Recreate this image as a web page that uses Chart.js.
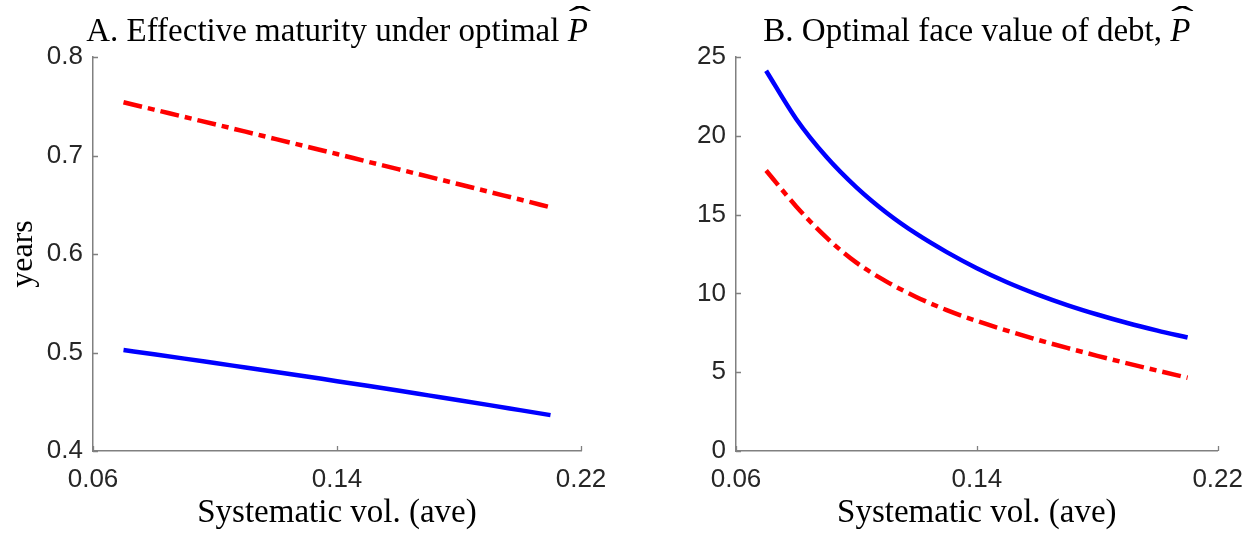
<!DOCTYPE html>
<html>
<head>
<meta charset="utf-8">
<script src="https://cdn.jsdelivr.net/npm/chart.js@4.4.0/dist/chart.umd.min.js"></script>
<style>
  html, body { margin: 0; padding: 0; background: #fff; }
  .panel { position: absolute; top: 0; width: 628px; height: 533px; }
  #p1 { left: 0; }
  #p2 { left: 628px; }
</style>
</head>
<body>
<div class="panel" id="p1"><canvas id="grafico1"></canvas></div>
<div class="panel" id="p2"><canvas id="grafico2"></canvas></div>
<script>
// dados
const vol = [0.07, 0.08, 0.09, 0.10, 0.11, 0.12, 0.13, 0.14, 0.15, 0.16, 0.17, 0.18, 0.19, 0.20, 0.21];
const maturidadeAzul = [0.5025, 0.4982, 0.4938, 0.4893, 0.4848, 0.4803, 0.4756, 0.4709, 0.4662, 0.4614, 0.4565, 0.4516, 0.4466, 0.4415, 0.4364];
const maturidadeVermelho = [0.754, 0.7466, 0.7391, 0.7317, 0.7242, 0.7166, 0.7091, 0.7015, 0.6938, 0.6862, 0.6785, 0.6708, 0.663, 0.6553, 0.6474];
const faceAzul = [24.13, 21.07, 18.67, 16.73, 15.12, 13.77, 12.62, 11.6, 10.71, 9.94, 9.26, 8.66, 8.12, 7.64, 7.2];
const faceVermelho = [17.8, 15.52, 13.55, 11.95, 10.75, 9.76, 8.94, 8.25, 7.64, 7.07, 6.54, 6.04, 5.56, 5.1, 4.65];

const xTicks = [0.06, 0.14, 0.22];
const yTicksA = [0.4, 0.5, 0.6, 0.7, 0.8];
const yTicksB = [0, 5, 10, 15, 20, 25];

const titulos = ['A. Effective maturity under optimal ', 'B. Optimal face value of debt, '];

const cinza = '#808080';
const texto = '#262626';
const serifa = '"Liberation Serif"';

function pontos(ys) {
  return vol.map((x, i) => ({ x: x, y: ys[i] }));
}

// ticks para dentro (estilo matlab)
const ticksDentro = {
  id: 'ticksDentro',
  afterDraw(chart) {
    const c = chart.ctx;
    const a = chart.chartArea;
    c.save();
    c.strokeStyle = cinza;
    c.lineWidth = 1.3;
    c.beginPath();
    chart.scales.x.ticks.forEach(t => {
      const px = Math.round(chart.scales.x.getPixelForValue(t.value)) + 0.5;
      c.moveTo(px, a.bottom);
      c.lineTo(px, a.bottom - 5);
    });
    chart.scales.y.ticks.forEach(t => {
      const py = Math.round(chart.scales.y.getPixelForValue(t.value)) + 0.5;
      c.moveTo(a.left, py);
      c.lineTo(a.left + 5, py);
    });
    c.stroke();
    c.restore();
  }
};

// titulo com P chapeu em italico
const tituloPainel = {
  id: 'tituloPainel',
  afterDraw(chart, args, opts) {
    const c = chart.ctx;
    const a = chart.chartArea;
    const tam = 33;
    c.save();
    c.fillStyle = '#000';
    c.textBaseline = 'alphabetic';
    c.font = tam + 'px ' + serifa;
    const w1 = c.measureText(opts.text).width;
    c.font = 'italic ' + tam + 'px ' + serifa;
    const w2 = c.measureText('P').width;
    const cx = (a.left + a.right) / 2;
    const x = cx - (w1 + w2) / 2;
    c.font = tam + 'px ' + serifa;
    c.fillText(opts.text, x, 41);
    c.font = 'italic ' + tam + 'px ' + serifa;
    c.fillText('P', x + w1, 41);
    // chapeu largo
    c.font = '34px ' + serifa;
    c.textAlign = 'center';
    c.translate(x + w1 + w2 / 2 + 2, 30);
    c.scale(2.0, 1);
    c.fillText('\u02C6', 0, 0);
    c.restore();
  }
};

function opcoes(yTicks, yMin, yMax, fmt, padRight, yWidth, yTitulo, titulo) {
  return {
    responsive: true,
    maintainAspectRatio: false,
    animation: false,
    layout: { padding: { top: 57, right: padRight, bottom: 0, left: 0 } },
    plugins: {
      legend: { display: false },
      tooltip: { enabled: false },
      tituloPainel: { text: titulo }
    },
    scales: {
      x: {
        type: 'linear',
        min: 0.06,
        max: 0.22,
        afterBuildTicks: s => { s.ticks = xTicks.map(v => ({ value: v })); },
        afterFit: s => { s.height = 82; },
        grid: { drawOnChartArea: false, drawTicks: false },
        border: { color: cinza, width: 1.5 },
        ticks: {
          padding: 13,
          color: texto,
          font: { family: '"Liberation Sans"', size: 26 },
          maxRotation: 0,
          callback: v => v.toFixed(2)
        },
        title: {
          display: true,
          text: 'Systematic vol. (ave)',
          color: '#000',
          font: { family: serifa, size: 33 },
          padding: { top: 0, bottom: 0 }
        }
      },
      y: {
        min: yMin,
        max: yMax,
        afterBuildTicks: s => { s.ticks = yTicks.map(v => ({ value: v })); },
        afterFit: s => { s.width = yWidth; },
        grid: { drawOnChartArea: false, drawTicks: false },
        border: { color: cinza, width: 1.5 },
        ticks: {
          padding: 10,
          color: texto,
          font: { family: '"Liberation Sans"', size: 26 },
          callback: fmt
        },
        title: {
          display: yTitulo !== '',
          text: yTitulo,
          color: '#000',
          font: { family: serifa, size: 32 },
          padding: { top: 4, bottom: 0 }
        }
      }
    }
  };
}

// grafico 1
new Chart(document.getElementById('grafico1'), {
  type: 'line',
  data: {
    datasets: [{
      data: pontos(maturidadeVermelho),
      borderColor: '#ff0000',
      borderWidth: 4.5,
      borderDash: [19, 6, 7, 6],
      pointRadius: 0,
      cubicInterpolationMode: 'monotone'
    }, {
      data: pontos(maturidadeAzul),
      borderColor: '#0000ff',
      borderWidth: 4.5,
      pointRadius: 0,
      cubicInterpolationMode: 'monotone'
    }]
  },
  options: opcoes(yTicksA, 0.4, 0.8, v => v.toFixed(1), 47, 93, 'years', titulos[0]),
  plugins: [ticksDentro, tituloPainel]
});

// grafico 2
new Chart(document.getElementById('grafico2'), {
  type: 'line',
  data: {
    datasets: [{
      data: pontos(faceVermelho),
      borderColor: '#ff0000',
      borderWidth: 4.5,
      borderDash: [19, 6, 7, 6],
      pointRadius: 0,
      cubicInterpolationMode: 'monotone'
    }, {
      data: pontos(faceAzul),
      borderColor: '#0000ff',
      borderWidth: 4.5,
      pointRadius: 0,
      cubicInterpolationMode: 'monotone'
    }]
  },
  options: opcoes(yTicksB, 0, 25, v => String(v), 34, 108, '', titulos[1]),
  plugins: [ticksDentro, tituloPainel]
});
</script>
</body>
</html>
